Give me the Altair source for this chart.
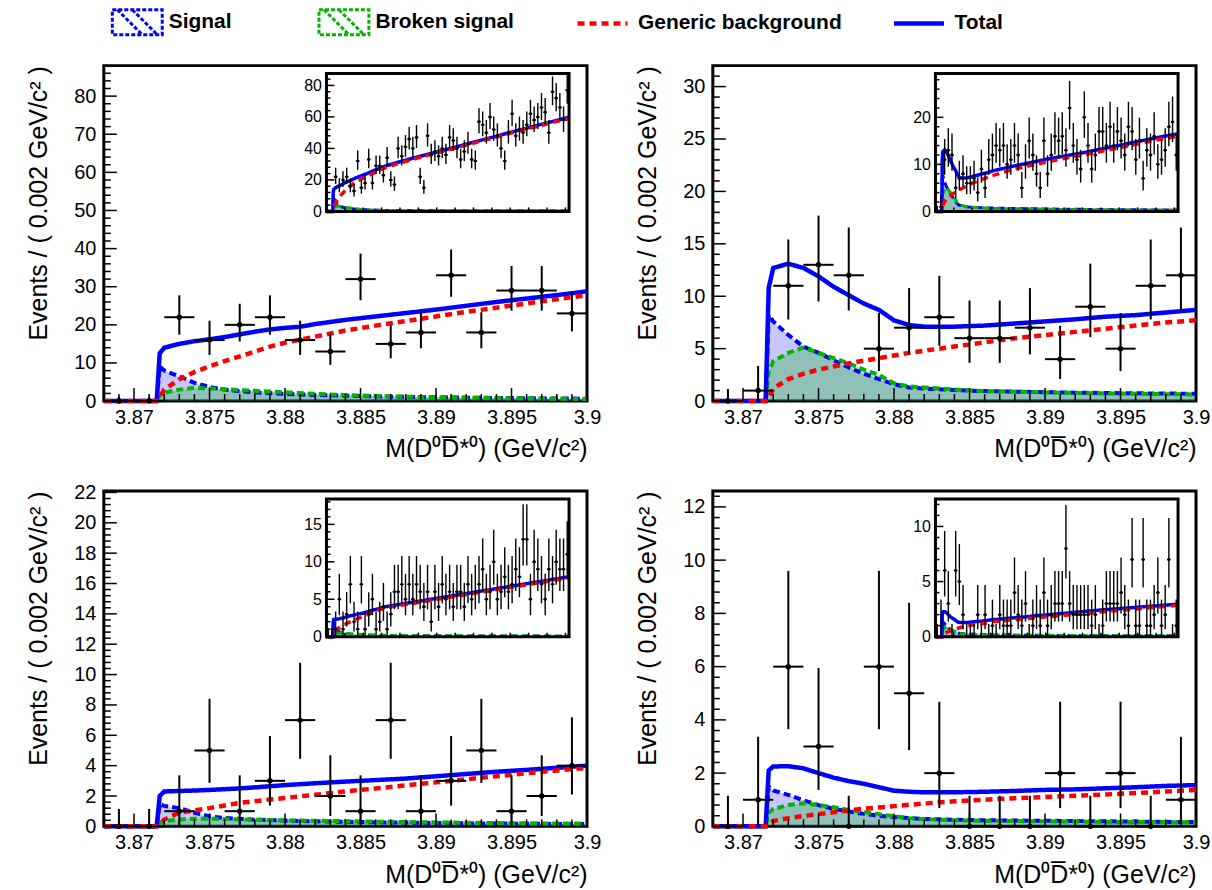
import altair as alt
import numpy as np
import pandas as pd

FONT = "Liberation Sans"
BLUE = "#0000ff"
GREEN = "#00b400"
RED = "#ff0000"

# ---------------- data ----------------
BIN_WIDTH = 0.002
BIN_CENTERS = [round(3.869 + BIN_WIDTH * k, 3) for k in range(66)]

COUNTS_1 = [0, 0, 22, 16, 20, 22, 16, 13, 32, 15, 18, 33, 18, 29, 29, 23,
            34, 20, 17, 40, 35, 41, 46, 40, 47, 22, 15, 48, 36, 38, 35, 40, 36, 47, 45, 40,
            33, 38, 43, 33, 32, 57, 55, 50, 60, 52, 48, 40, 32, 50, 62, 48, 52, 50, 55, 62,
            58, 60, 66, 63, 50, 76, 72, 66, 58, 77]
COUNTS_2 = [0, 1, 11, 13, 12, 5, 7, 8, 6, 6, 7, 4, 9, 5, 11, 12,
            14, 13, 14, 10, 11, 14, 12, 5, 10, 15, 12, 8, 5, 15, 8, 12, 16, 15, 16, 13,
            22, 14, 11, 9, 20, 14, 9, 12, 17, 17, 14, 18, 14, 17, 15, 12, 18, 17, 11, 15,
            7, 13, 12, 16, 10, 11, 13, 18, 19, 12]
COUNTS_3 = [0, 0, 1, 5, 1, 3, 7, 2, 1, 7, 1, 3, 5, 1, 2, 4,
            1, 3, 6, 6, 7, 5, 7, 5, 7, 6, 4, 6, 2, 6, 4, 7, 5, 6, 4, 6,
            6, 4, 7, 5, 6, 7, 9, 5, 6, 10, 5, 6, 8, 6, 7, 9, 8, 13, 13, 5,
            10, 9, 7, 5, 9, 7, 10, 9, 9, 11]
COUNTS_4 = [0, 1, 6, 3, 0, 6, 5, 2, 0, 0, 0, 2, 0, 2, 0, 1,
            0, 2, 1, 1, 1, 4, 2, 1, 3, 0, 1, 2, 1, 4, 1, 2, 3, 3, 3, 8,
            3, 2, 2, 2, 2, 2, 1, 2, 0, 1, 3, 3, 3, 3, 4, 2, 1, 7, 1, 1,
            7, 1, 1, 2, 4, 1, 2, 7, 0, 1]

CURVE_X = [3.868, 3.8715, 3.8717, 3.872, 3.873, 3.874, 3.875, 3.876, 3.877, 3.878,
           3.879, 3.880, 3.881, 3.882, 3.884, 3.886, 3.888, 3.890, 3.892, 3.894,
           3.896, 3.898, 3.900, 3.910, 3.920, 3.930, 3.940, 3.950, 3.960, 3.970,
           3.980, 3.990, 4.000]

TOT_1 = [0, 0, 12.5, 14.0, 15.0, 15.7, 16.2, 16.8, 17.5, 18.2, 18.8, 19.2, 19.5, 20.2,
         21.3, 22.2, 23.1, 24.0, 25.0, 26.0, 26.9, 27.8, 28.8,
         32.2, 35.3, 38.3, 41.4, 44.6, 47.6, 50.8, 53.8, 56.8, 59.8]
BKG_1 = [0, 0, 1.0, 3.0, 5.7, 7.6, 9.1, 10.5, 11.7, 13.0, 14.3, 15.3, 16.1, 16.9,
         18.5, 19.8, 21.0, 22.2, 23.4, 24.5, 25.6, 26.7, 27.8,
         31.4, 34.6, 37.7, 40.8, 44.0, 47.0, 50.2, 53.2, 56.2, 59.0]
SIG_1 = [0, 0, 9.0, 8.0, 6.5, 4.8, 3.7, 3.0, 2.6, 2.3, 2.1, 1.9, 1.75, 1.6,
         1.4, 1.25, 1.1, 1.0, 0.9, 0.82, 0.75, 0.68, 0.62,
         0.55, 0.5, 0.47, 0.45, 0.43, 0.41, 0.4, 0.39, 0.38, 0.37]
BRK_1 = [0, 0, 1.5, 2.2, 3.0, 3.5, 3.3, 3.1, 2.9, 2.7, 2.5, 2.3, 2.1, 1.9,
         1.6, 1.35, 1.15, 1.0, 0.9, 0.8, 0.7, 0.62, 0.55,
         0.48, 0.44, 0.41, 0.39, 0.37, 0.36, 0.35, 0.34, 0.33, 0.32]

TOT_2 = [0, 0, 10.8, 12.7, 13.1, 12.7, 11.9, 10.9, 10.1, 9.3, 8.7, 7.7, 7.25, 7.1,
         7.1, 7.2, 7.4, 7.6, 7.8, 8.05, 8.2, 8.45, 8.7,
         9.6, 10.4, 11.2, 11.9, 12.6, 13.4, 14.2, 15.0, 15.8, 16.5]
BKG_2 = [0, 0, 0.3, 1.2, 2.1, 2.6, 3.0, 3.3, 3.6, 3.85, 4.1, 4.35, 4.6, 4.8,
         5.2, 5.6, 6.0, 6.3, 6.6, 6.9, 7.2, 7.5, 7.7,
         8.9, 9.8, 10.6, 11.4, 12.1, 12.9, 13.7, 14.5, 15.3, 16.0]
SIG_2 = [0, 0, 8.2, 7.6, 6.3, 5.2, 4.6, 3.9, 3.2, 2.6, 2.1, 1.6, 1.3, 1.2,
         1.05, 0.95, 0.9, 0.85, 0.8, 0.77, 0.74, 0.72, 0.7,
         0.62, 0.56, 0.5, 0.46, 0.42, 0.39, 0.36, 0.34, 0.32, 0.3]
BRK_2 = [0, 0, 2.8, 3.8, 4.6, 5.1, 4.6, 4.1, 3.6, 3.0, 2.5, 1.7, 1.4, 1.3,
         1.1, 0.95, 0.9, 0.82, 0.78, 0.73, 0.7, 0.66, 0.63,
         0.55, 0.5, 0.45, 0.41, 0.38, 0.35, 0.33, 0.31, 0.29, 0.28]

TOT_3 = [0, 0, 2.0, 2.3, 2.33, 2.36, 2.4, 2.45, 2.5, 2.57, 2.64, 2.72, 2.78, 2.84,
         2.95, 3.05, 3.15, 3.3, 3.45, 3.6, 3.72, 3.86, 4.0,
         4.4, 4.8, 5.2, 5.6, 6.0, 6.4, 6.8, 7.2, 7.6, 8.0]
BKG_3 = [0, 0, 0.15, 0.45, 0.9, 1.05, 1.2, 1.38, 1.55, 1.66, 1.77, 1.87, 1.98, 2.08,
         2.3, 2.5, 2.7, 2.9, 3.1, 3.3, 3.5, 3.68, 3.85,
         4.25, 4.65, 5.05, 5.45, 5.85, 6.25, 6.65, 7.05, 7.45, 7.85]
SIG_3 = [0, 0, 1.45, 1.35, 1.2, 0.9, 0.66, 0.55, 0.5, 0.44, 0.41, 0.38, 0.35, 0.33,
         0.3, 0.27, 0.25, 0.22, 0.2, 0.19, 0.17, 0.16, 0.15,
         0.13, 0.12, 0.11, 0.1, 0.09, 0.09, 0.08, 0.08, 0.07, 0.07]
BRK_3 = [0, 0, 0.2, 0.35, 0.45, 0.5, 0.5, 0.48, 0.46, 0.44, 0.42, 0.4, 0.38, 0.37,
         0.34, 0.31, 0.29, 0.26, 0.24, 0.22, 0.2, 0.19, 0.18,
         0.15, 0.13, 0.12, 0.11, 0.1, 0.09, 0.09, 0.08, 0.08, 0.07]

TOT_4 = [0, 0, 2.1, 2.25, 2.26, 2.18, 2.0, 1.83, 1.7, 1.6, 1.47, 1.34, 1.3, 1.28,
         1.28, 1.3, 1.33, 1.37, 1.39, 1.43, 1.47, 1.52, 1.55,
         1.7, 1.85, 2.0, 2.15, 2.3, 2.45, 2.57, 2.7, 2.82, 2.95]
BKG_4 = [0, 0, 0.08, 0.2, 0.31, 0.39, 0.46, 0.53, 0.6, 0.66, 0.71, 0.76, 0.81, 0.86,
         0.94, 1.0, 1.06, 1.1, 1.15, 1.2, 1.25, 1.31, 1.37,
         1.52, 1.67, 1.82, 1.97, 2.12, 2.27, 2.42, 2.56, 2.7, 2.85]
SIG_4 = [0, 0, 1.5, 1.35, 1.18, 0.98, 0.8, 0.66, 0.56, 0.47, 0.4, 0.35, 0.31, 0.28,
         0.25, 0.23, 0.22, 0.21, 0.2, 0.19, 0.18, 0.17, 0.16,
         0.14, 0.13, 0.12, 0.11, 0.1, 0.1, 0.09, 0.09, 0.08, 0.08]
BRK_4 = [0, 0, 0.5, 0.65, 0.8, 0.87, 0.8, 0.72, 0.62, 0.54, 0.46, 0.38, 0.31, 0.27,
         0.23, 0.21, 0.2, 0.19, 0.18, 0.17, 0.16, 0.16, 0.15,
         0.13, 0.12, 0.11, 0.1, 0.1, 0.09, 0.09, 0.08, 0.08, 0.07]

COUNTS = [COUNTS_1, COUNTS_2, COUNTS_3, COUNTS_4]
TOT = [TOT_1, TOT_2, TOT_3, TOT_4]
BKG = [BKG_1, BKG_2, BKG_3, BKG_4]
SIG = [SIG_1, SIG_2, SIG_3, SIG_4]
BRK = [BRK_1, BRK_2, BRK_3, BRK_4]

YMAX_MAIN = [88, 32, 22.1, 12.6]
YMAX_INSET = [87.5, 29.3, 18.4, 12.5]
Y_STEPS_MAIN = [(10, 2), (5, 1), (2, 0.4), (2, 0.4)]
Y_STEPS_INSET = [(20, 4), (10, 2), (5, 1), (5, 1)]

MAIN_XDOM = [3.868, 3.9]
INSET_XDOM = [3.868, 4.0]
X_STEPS_MAIN = (0.005, 0.001)
X_STEPS_INSET = (0.05, 0.01)

X_TITLE = "M(D\u2070D\u0305*\u2070) (GeV/c\u00b2)"
Y_TITLE = "Events / ( 0.002 GeV/c\u00b2 )"

# ---------------- layout ----------------
W, H = 484, 336
INSET_XR = [223, 466]
INSET_YR = [146, 8]

HATCH = "M-1,-0.5H1V0.5H-1Z M-0.8,-0.5L0.2,0.5 M-0.2,-0.5L0.8,0.5"
LEG_A = alt.Legend(title=None, orient="none", legendX=7, legendY=-70,
                   direction="horizontal", columnPadding=80, symbolType=HATCH,
                   symbolSize=2500, symbolStrokeWidth=3, symbolDash=[4, 2],
                   labelFont=FONT, labelFontSize=21, labelFontWeight="bold",
                   labelOffset=5, padding=0, labelLimit=400, labelColor="black")
LEG_B = alt.Legend(title=None, orient="none", legendX=472, legendY=-70,
                   direction="horizontal", columnPadding=42, symbolType="stroke",
                   symbolSize=2500, symbolStrokeWidth=4.5,
                   labelFont=FONT, labelFontSize=21, labelFontWeight="bold",
                   labelOffset=8, padding=0, labelLimit=400, labelColor="black")
STROKE_SCALE = alt.Scale(domain=["Signal", "Broken signal"], range=[BLUE, GREEN])
COLOR_SCALE = alt.Scale(domain=["Generic background", "Total"], range=[RED, BLUE])
DASH_SCALE = alt.Scale(domain=["Generic background", "Total"], range=[[7, 5], [1, 0]])


def tick_values(lo, hi, step):
    return [round(float(v), 6) for v in np.arange(lo, hi + 1e-9, step)]


def is_major(v, major):
    return abs(v / major - round(v / major)) < 1e-6


def split_ticks(lo, hi, major, minor):
    vals = tick_values(lo, hi, minor)
    return [v for v in vals if is_major(v, major)], [v for v in vals if not is_major(v, major)]


def build_layer(pts, curw, curl, xs, ys, xax, yax, xt, yt, big, frame=None):
    def X(f):
        return alt.X(f, type="quantitative", scale=xs, axis=xax)

    def Y(f):
        return alt.Y(f, type="quantitative", scale=ys, axis=yax)

    lw = 4.5 if big else 3.5
    layers = []
    if frame is not None:
        layers.append(alt.Chart(frame).mark_rect(fill="white", strokeWidth=0).encode(
            x=X("x0"), x2="x1", y=Y("y0"), y2="y1"))
    layers.append(alt.Chart(curw).mark_area(color=BLUE, opacity=0.22).encode(x=X("x"), y=Y("sig")))
    layers.append(alt.Chart(curw).mark_area(color=GREEN, opacity=0.28).encode(x=X("x"), y=Y("brk")))
    sb = curl[curl.comp.isin(["Signal", "Broken signal"])]
    layers.append(alt.Chart(sb).mark_line(strokeWidth=lw - 0.5, strokeDash=[7, 4]).encode(
        x=X("x"), y=Y("val"),
        stroke=alt.Stroke("comp:N", scale=STROKE_SCALE, legend=LEG_A)))
    for comp in ["Total", "Generic background"]:
        d = curl[curl.comp == comp]
        layers.append(alt.Chart(d).mark_line(strokeWidth=lw).encode(
            x=X("x"), y=Y("val"),
            color=alt.Color("comp:N", scale=COLOR_SCALE, legend=LEG_B),
            strokeDash=alt.StrokeDash("comp:N", scale=DASH_SCALE, legend=LEG_B)))
    err = alt.Chart(pts).transform_calculate(
        lo="datum.n > 0 ? datum.n - sqrt(datum.n) + 0.1 : 0",
        hi="datum.n > 0 ? datum.n + sqrt(datum.n + 1) + 0.95 : 1.15",
        xl="datum.x - %g" % (BIN_WIDTH / 2),
        xh="datum.x + %g" % (BIN_WIDTH / 2))
    ew = 2 if big else 1.4
    layers.append(err.mark_rule(color="black", strokeWidth=ew).encode(x=X("x"), y=Y("lo"), y2="hi:Q"))
    layers.append(err.mark_rule(color="black", strokeWidth=ew).encode(x=X("xl"), x2="xh:Q", y=Y("n")))
    layers.append(alt.Chart(pts).mark_circle(color="black", opacity=1, size=30 if big else 9).encode(
        x=X("x"), y=Y("n")))
    # ticks (inward)
    (xmaj, xmin), (ymaj, ymin) = xt, yt
    lmaj, lmin = (13, 7) if big else (8, 4)
    x0 = xs.domain[0]
    for vals, ln in [(xmaj, lmaj), (xmin, lmin)]:
        layers.append(alt.Chart(pd.DataFrame({"v": vals})).mark_tick(
            orient="vertical", size=ln, thickness=1.5, yOffset=-ln / 2, color="black", opacity=1).encode(
            x=X("v"), y=alt.YDatum(0, type="quantitative", scale=ys, axis=yax)))
    for vals, ln in [(ymaj, lmaj), (ymin, lmin)]:
        layers.append(alt.Chart(pd.DataFrame({"v": vals})).mark_tick(
            orient="horizontal", size=ln, thickness=1.5, xOffset=ln / 2, color="black", opacity=1).encode(
            y=Y("v"), x=alt.XDatum(x0, type="quantitative", scale=xs, axis=xax)))
    if frame is not None:
        layers.append(alt.Chart(frame).mark_rect(fill=None, stroke="black", strokeWidth=3).encode(
            x=X("x0"), x2="x1", y=Y("y0"), y2="y1"))
    return alt.layer(*layers)


def make_panel(i):
    pts = pd.DataFrame({"x": BIN_CENTERS, "n": COUNTS[i]})
    curw = pd.DataFrame({"x": CURVE_X, "sig": SIG[i], "brk": BRK[i]})
    curl = pd.concat([pd.DataFrame({"x": CURVE_X, "comp": name, "val": vals})
                      for name, vals in [("Signal", SIG[i]), ("Broken signal", BRK[i]),
                                         ("Generic background", BKG[i]), ("Total", TOT[i])]],
                     ignore_index=True)
    # main view
    xs = alt.Scale(domain=MAIN_XDOM, nice=False, zero=False)
    ys = alt.Scale(domain=[0, YMAX_MAIN[i]], nice=False, zero=False)
    xmaj, xmin = split_ticks(MAIN_XDOM[0], MAIN_XDOM[1], *X_STEPS_MAIN)
    ymaj, ymin = split_ticks(0, YMAX_MAIN[i], *Y_STEPS_MAIN[i])
    xax = alt.Axis(values=xmaj, format=".3~f", ticks=False, domain=False, grid=False,
                   labelFontSize=20, labelPadding=6, labelFlush=False, labelOverlap=False,
                   title=X_TITLE, titleAnchor="end", titleFontSize=25, titleFontWeight="normal",
                   titlePadding=10)
    yax = alt.Axis(values=ymaj, format="d", ticks=False, domain=False, grid=False,
                   labelFontSize=20, labelPadding=8, labelOverlap=False,
                   title=Y_TITLE, titleAnchor="end", titleFontSize=25, titleFontWeight="normal",
                   titlePadding=22)
    main = build_layer(pts[pts.x < 3.9], curw[curw.x <= 3.9], curl[curl.x <= 3.9],
                       xs, ys, xax, yax, (xmaj, xmin), (ymaj, ymin), True)
    # inset view
    ixs = alt.Scale(domain=INSET_XDOM, range=INSET_XR, nice=False, zero=False)
    iys = alt.Scale(domain=[0, YMAX_INSET[i]], range=INSET_YR, nice=False, zero=False)
    ixmaj, ixmin = split_ticks(INSET_XDOM[0], INSET_XDOM[1], *X_STEPS_INSET)
    ixmaj = [v for v in ixmaj if v > 3.87]
    iymaj, iymin = split_ticks(0, YMAX_INSET[i], *Y_STEPS_INSET[i])
    ixax = alt.Axis(orient="bottom", offset=-(H - INSET_YR[0]), values=ixmaj, format=".2~f",
                    ticks=False, domain=False, grid=False, labelFontSize=16, labelPadding=4,
                    labelFlush=False, labelOverlap=False, title=None)
    iyax = alt.Axis(orient="left", offset=-INSET_XR[0], values=iymaj, format="d",
                    ticks=False, domain=False, grid=False, labelFontSize=16, labelPadding=5,
                    labelOverlap=False, title=None)
    frame = pd.DataFrame({"x0": [INSET_XDOM[0]], "x1": [INSET_XDOM[1]],
                          "y0": [0], "y1": [YMAX_INSET[i]]})
    inset = build_layer(pts, curw, curl, ixs, iys, ixax, iyax, (ixmaj, ixmin), (iymaj, iymin),
                        False, frame=frame)
    return alt.layer(main, inset).resolve_scale(x="independent", y="independent").properties(
        width=W, height=H)


panels = [make_panel(i) for i in range(4)]

chart = alt.concat(
    *panels, columns=2, spacing={"row": 90, "column": 126}, bounds="flush",
    padding={"left": 25, "top": -5, "right": 0, "bottom": 0},
).configure(font=FONT, background="white").configure_view(
    stroke="black", strokeWidth=3
).configure_axis(
    labelColor="black", titleColor="black", labelFont=FONT, titleFont=FONT
)

chart.save("out.html", embed_options={"renderer": "svg", "actions": False})
